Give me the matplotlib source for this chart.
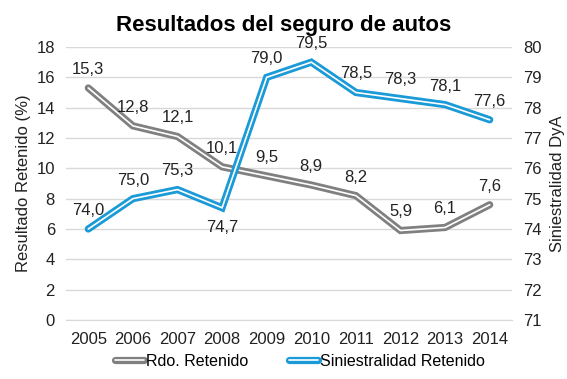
import matplotlib
matplotlib.use("Agg")
import matplotlib.pyplot as plt
from matplotlib.lines import Line2D
from matplotlib.legend_handler import HandlerBase

plt.rcParams['font.family'] = ['Liberation Sans', 'DejaVu Sans']

years = ["2005", "2006", "2007", "2008", "2009", "2010", "2011", "2012", "2013", "2014"]
rdo_retenido = [15.3, 12.8, 12.1, 10.1, 9.5, 8.9, 8.2, 5.9, 6.1, 7.6]
siniestralidad = [74.0, 75.0, 75.3, 74.7, 79.0, 79.5, 78.5, 78.3, 78.1, 77.6]
left_ticks = [0, 2, 4, 6, 8, 10, 12, 14, 16, 18]
right_ticks = [71, 72, 73, 74, 75, 76, 77, 78, 79, 80]

gray = "#808080"
blue = "#1a9ad6"

fig = plt.figure(figsize=(5.67, 3.79), dpi=100)
ax = fig.add_axes([66/567, 1-320/379, (512-66)/567, (320-47)/379])
ax2 = ax.twinx()

x = list(range(len(years)))

def double_line(a, xs, ys, color, z):
    a.plot(xs, ys, color=color, lw=5.2, solid_capstyle='round', solid_joinstyle='miter', zorder=z)
    a.plot(xs, ys, color='white', lw=1.2, solid_capstyle='round', solid_joinstyle='miter', zorder=z+0.1)

double_line(ax, x, rdo_retenido, gray, 3)
double_line(ax2, x, siniestralidad, blue, 3)

fmt = lambda v: f"{v:.1f}".replace('.', ',')
for xi, v in zip(x, rdo_retenido):
    ax.annotate(fmt(v), (xi, v), xytext=(0, 8), textcoords='offset points',
                ha='center', va='bottom', fontsize=12, color='#222222')
for i, (xi, v) in enumerate(zip(x, siniestralidad)):
    if i == 3:
        ax2.annotate(fmt(v), (xi, v), xytext=(0, -9), textcoords='offset points',
                     ha='center', va='top', fontsize=12, color='#222222')
    else:
        ax2.annotate(fmt(v), (xi, v), xytext=(0, 8), textcoords='offset points',
                     ha='center', va='bottom', fontsize=12, color='#222222')

ax.set_xlim(-0.5, len(years) - 0.5)
ax.set_ylim(0, 18)
ax2.set_ylim(71, 80)
ax.set_yticks(left_ticks)
ax.set_yticklabels([str(t) for t in left_ticks])
ax2.set_yticks(right_ticks)
ax2.set_yticklabels([str(t) for t in right_ticks])
ax.set_xticks(x)
ax.set_xticklabels(years)

ax.grid(axis='y', color='#d9d9d9', lw=1)
ax.set_axisbelow(True)
for a in (ax, ax2):
    for s in a.spines.values():
        s.set_visible(False)
    a.tick_params(length=0, labelsize=12, colors='#222222')
ax.spines['bottom'].set_visible(True)
ax.spines['bottom'].set_color('#d9d9d9')
ax.tick_params(axis='y', pad=8)
ax2.tick_params(axis='y', pad=8)
ax.tick_params(axis='x', pad=9)

ax.set_ylabel("Resultado Retenido (%)", fontsize=12, color='#222222', labelpad=4)
ax2.set_ylabel("Siniestralidad DyA", fontsize=12, color='#222222', labelpad=6)

fig.text(0.5, 1 - 26/379, "Resultados del seguro de autos", ha='center', va='center',
         fontsize=16, fontweight='bold')

class DoubleHandler(HandlerBase):
    def create_artists(self, legend, orig_handle, xdescent, ydescent, width, height, fontsize, trans):
        c = orig_handle.get_color()
        y = height / 2 - ydescent
        l1 = Line2D([0 - xdescent, width - xdescent], [y, y], color=c, lw=5.2, solid_capstyle='round', transform=trans)
        l2 = Line2D([0 - xdescent, width - xdescent], [y, y], color='white', lw=1.2, solid_capstyle='round', transform=trans)
        return [l1, l2]

h1 = Line2D([], [], color=gray)
h2 = Line2D([], [], color=blue)
fig.legend([h1, h2], ["Rdo. Retenido", "Siniestralidad Retenido"], loc='center',
           bbox_to_anchor=(300/567, 1 - 361/379), ncol=2, frameon=False, fontsize=11.5,
           handler_map={Line2D: DoubleHandler()}, handlelength=1.8, handletextpad=0.1,
           columnspacing=2.6)

fig.savefig("out.png", dpi=100)
